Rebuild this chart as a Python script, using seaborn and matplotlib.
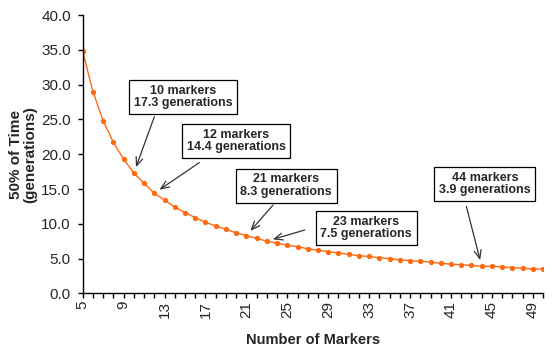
import pandas as pd
import seaborn as sns
import matplotlib.pyplot as plt

# %%

markers = list(range(5, 51))
generations = [34.8, 29.0, 24.8, 21.7, 19.3, 17.3, 15.8, 14.4, 13.4, 12.4,
               11.6, 10.9, 10.2, 9.7, 9.2, 8.7, 8.3, 7.9, 7.5, 7.2,
               6.9, 6.7, 6.4, 6.2, 6.0, 5.8, 5.6, 5.4, 5.3, 5.1,
               5.0, 4.8, 4.7, 4.6, 4.5, 4.3, 4.2, 4.1, 4.0, 3.9,
               3.9, 3.8, 3.7, 3.6, 3.5, 3.5]

# callouts: (markers, generations, box centre, arrow tail)
callout_n = [10, 12, 21, 23, 44]
callout_gen = [17.3, 14.4, 8.3, 7.5, 3.9]
box_pos = [(14.8, 28.2), (20.0, 21.9), (24.9, 15.5), (32.7, 9.4), (44.3, 15.7)]
tail_pos = [(12.0, 25.4), (16.4, 18.8), (23.6, 12.7), (26.7, 9.1), (42.5, 12.5)]

df = pd.DataFrame({'markers': markers, 'gen': generations})

# %%

sns.set_style('ticks')
plt.rcParams['font.family'] = ['Liberation Sans', 'DejaVu Sans']

fig = plt.figure(figsize=(5.57, 3.54), dpi=100)
ax = fig.add_axes([0.1485, 0.1715, 0.975 - 0.1485, 0.957 - 0.1715])

sns.lineplot(data=df, x='markers', y='gen', ax=ax,
             color='#ff6a10', lw=1.0,
             marker='o', markersize=3.8, markeredgewidth=0)

ax.set_xlim(5, 50)
ax.set_ylim(0, 40)
ax.set_xticks(markers)
ax.set_xticklabels([str(m) if (m - 5) % 4 == 0 else '' for m in markers],
                   rotation=90, fontsize=11)
ax.set_yticks(range(0, 41, 5))
ax.set_yticklabels([f'{v:.1f}' for v in range(0, 41, 5)], fontsize=11)
ax.tick_params(axis='both', length=3.5, width=1, color='black')
ax.tick_params(axis='x', pad=2)
ax.tick_params(axis='y', pad=5)

for side in ['top', 'right']:
    ax.spines[side].set_visible(False)
for side in ['left', 'bottom']:
    ax.spines[side].set_color('black')
    ax.spines[side].set_linewidth(1)

ax.set_xlabel('Number of Markers', fontsize=10.5, fontweight='bold', labelpad=11)
ax.set_ylabel('50% of Time\n(generations)', fontsize=11, fontweight='bold',
              labelpad=3, linespacing=1.0)

for n, g, bp, tp in zip(callout_n, callout_gen, box_pos, tail_pos):
    ax.text(bp[0], bp[1], f'{n} markers\n{g} generations',
            ha='center', va='center', fontsize=9, fontweight='bold',
            linespacing=1.05,
            bbox=dict(boxstyle='square,pad=0.38', fc='white', ec='black', lw=0.9))
    ax.annotate('', xy=(n, g), xytext=tp,
                arrowprops=dict(arrowstyle='->,head_length=0.6,head_width=0.25',
                                color='#333333', lw=0.9,
                                shrinkA=0, shrinkB=4.5))

fig.savefig('out.png', dpi=100)
